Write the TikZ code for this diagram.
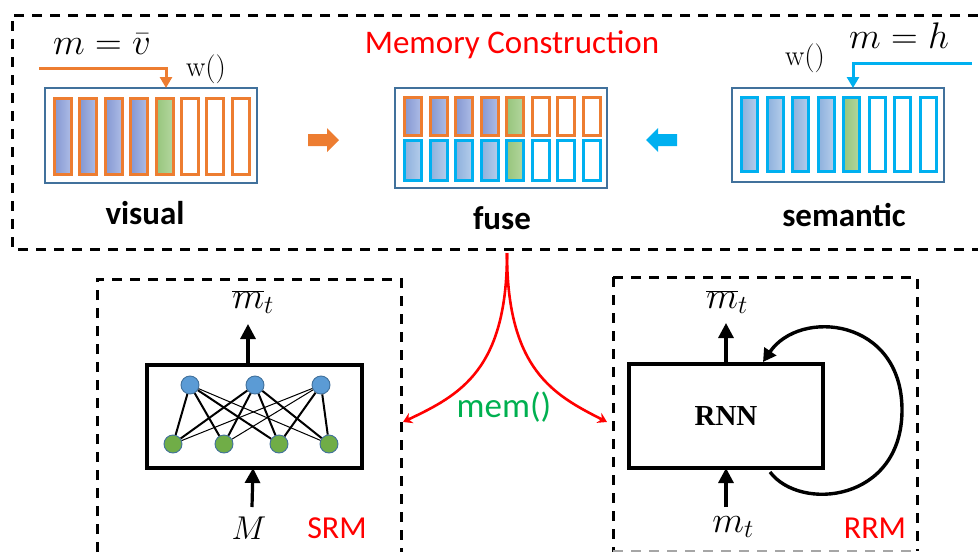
\documentclass[tikz,border=0pt]{standalone}
\usepackage{fix-cm}
\usepackage{fontspec}
\newfontfamily\calfont{Carlito}
\newfontfamily\timesfont{Liberation Serif}
\usetikzlibrary{arrows.meta}
\definecolor{orng}{HTML}{ED7D31}
\definecolor{skyb}{HTML}{00B0F0}
\definecolor{boxb}{HTML}{41719C}
\definecolor{vbl}{HTML}{8497D2}
\definecolor{vbr}{HTML}{AEBDE6}
\definecolor{sbl}{HTML}{8DB0DC}
\definecolor{sbr}{HTML}{B5CDEB}
\definecolor{gbl}{HTML}{97C57C}
\definecolor{gbr}{HTML}{B3D69E}
\definecolor{nblue}{HTML}{5B9BD5}
\definecolor{ngreen}{HTML}{70AD47}
\definecolor{memgreen}{HTML}{00B050}
\tikzset{
  dashbox/.style={line width=3pt, dash pattern=on 10pt off 8pt},
  membox/.style={draw=boxb, line width=1.6pt, inner sep=0pt},
  thickbox/.style={draw=black, line width=4pt, inner sep=0pt, fill=white},
  uparrow/.style={line width=3.2pt, -{Triangle[width=15pt,length=15pt]}},
  feedarrow/.style={line width=3.4pt, -{Triangle[width=14pt,length=13pt]}},
  redarr/.style={red, line width=2.6pt, -{Stealth[width=11pt,length=9pt]}},
  neuronb/.style={circle, draw=boxb, fill=nblue, line width=0.9pt, minimum size=18pt, inner sep=0pt},
  neurong/.style={circle, draw=boxb, fill=ngreen, line width=0.9pt, minimum size=18pt, inner sep=0pt},
  thickedge/.style={line width=2pt},
  thinedge/.style={line width=1pt},
  labelbold/.style={font=\calfont\bfseries\fontsize{33}{38}\selectfont},
  redlabel/.style={text=red, font=\calfont\fontsize{32}{38}\selectfont},
  mathlabel/.style={font=\fontsize{37}{42}\selectfont, inner sep=0pt},
  wlabel/.style={font=\fontsize{29}{33}\selectfont, inner sep=0pt},
}
\begin{document}
\begin{tikzpicture}[x=1pt,y=-1pt]
\useasboundingbox (0,0) rectangle (978,552);
% outer dashed frame
\draw[dashbox] (978,15) -- (12,15) -- (12,249) -- (978,249);
\node[text=red, font=\calfont\fontsize{33}{38}\selectfont] (title) at (512,45) {Memory Construction};

% memory boxes
\node[membox, minimum width=212pt, minimum height=95pt] (vis) at (151,135.5) {};
\node[membox, minimum width=212pt, minimum height=100pt] (fuse) at (501,138) {};
\node[membox, minimum width=212pt, minimum height=94pt] (sem) at (838,135) {};

% visual bars
\foreach \i in {0,...,7}{
  \pgfmathsetmacro\xa{54.5+25.4*\i}
  \pgfmathsetmacro\xb{71.5+25.4*\i}
  \ifnum\i<4
    \draw[orng, line width=3pt, left color=vbl, right color=vbr] (\xa,98.5) rectangle (\xb,174.5);
  \else\ifnum\i=4
    \draw[orng, line width=3pt, left color=gbl, right color=gbr] (\xa,98.5) rectangle (\xb,174.5);
  \else
    \draw[orng, line width=3pt, fill=white] (\xa,98.5) rectangle (\xb,174.5);
  \fi\fi
}
% semantic bars
\foreach \i in {0,...,7}{
  \pgfmathsetmacro\xa{741.5+25.5*\i}
  \pgfmathsetmacro\xb{757.5+25.5*\i}
  \ifnum\i<4
    \draw[skyb, line width=3pt, left color=sbl, right color=sbr] (\xa,97.5) rectangle (\xb,171.5);
  \else\ifnum\i=4
    \draw[skyb, line width=3pt, left color=gbl, right color=gbr] (\xa,97.5) rectangle (\xb,171.5);
  \else
    \draw[skyb, line width=3pt, fill=white] (\xa,97.5) rectangle (\xb,171.5);
  \fi\fi
}
% fused bars
\foreach \i in {0,...,7}{
  \pgfmathsetmacro\xa{404.5+25.5*\i}
  \pgfmathsetmacro\xb{421.5+25.5*\i}
  \ifnum\i<4
    \draw[orng, line width=3pt, left color=vbl, right color=vbr] (\xa,97.5) rectangle (\xb,135.5);
    \draw[skyb, line width=3pt, left color=sbl, right color=sbr] (\xa,140.5) rectangle (\xb,180.5);
  \else\ifnum\i=4
    \draw[orng, line width=3pt, left color=gbl, right color=gbr] (\xa,97.5) rectangle (\xb,135.5);
    \draw[skyb, line width=3pt, left color=gbl, right color=gbr] (\xa,140.5) rectangle (\xb,180.5);
  \else
    \draw[orng, line width=3pt, fill=white] (\xa,97.5) rectangle (\xb,135.5);
    \draw[skyb, line width=3pt, fill=white] (\xa,140.5) rectangle (\xb,180.5);
  \fi\fi
}

% labels
\node[labelbold] (vislab) at (145,213) {visual};
\node[labelbold] (fuselab) at (502,218) {fuse};
\node[labelbold] (semlab) at (844,215) {semantic};

% write arrows
\node[mathlabel] (mv) at (102,44) {$m=\bar{v}$};
\node[wlabel] (wv) at (206,69) {w()};
\coordinate (vin) at (39,68);
\coordinate (vtgt) at (166,88);
\draw[orng, line width=3pt, -{Triangle[width=12pt,length=11pt]}] (vin) -| (vtgt);

\node[mathlabel] (mh) at (899,36) {$m=h$};
\node[wlabel] (ws) at (805,58) {w()};
\coordinate (sin) at (972,63);
\coordinate (stgt) at (853,88);
\draw[skyb, line width=3pt, -{Triangle[width=12pt,length=11pt]}] (sin) -| (stgt);

% block arrows to fuse
\fill[orng] (308,134) -- (327,134) -- (327,128) -- (339,140) -- (327,152) -- (327,146) -- (308,146) -- cycle;
\fill[skyb] (677,134) -- (658,134) -- (658,128) -- (646,140) -- (658,152) -- (658,146) -- (677,146) -- cycle;

% SRM frame
\draw[dashbox] (97,552) -- (97,279) -- (401,279) -- (401,552);
\node[thickbox, minimum width=215pt, minimum height=103pt] (srmnet) at (254.5,416.5) {};
\node[neuronb] (b1) at (190,385) {};
\node[neuronb] (b2) at (255,385) {};
\node[neuronb] (b3) at (321,385) {};
\node[neurong] (g1) at (173,444) {};
\node[neurong] (g2) at (224,444) {};
\node[neurong] (g3) at (279,444) {};
\node[neurong] (g4) at (329,444) {};
\draw[thickedge] (b1) -- (g1);
\draw[thickedge] (b1) -- (g2);
\draw[thickedge] (b1) -- (g3);
\draw[thinedge] (b1) -- (g4);
\draw[thickedge] (b2) -- (g1);
\draw[thickedge] (b2) -- (g2);
\draw[thickedge] (b2) -- (g3);
\draw[thickedge] (b2) -- (g4);
\draw[thinedge] (b3) -- (g1);
\draw[thinedge] (b3) -- (g2);
\draw[thickedge] (b3) -- (g3);
\draw[thickedge] (b3) -- (g4);

\node[mathlabel] (srmout) at (253,302) {$\overline{m}_t$};
\coordinate (srmtop) at (248,365);
\coordinate (srmtip) at (248,324);
\draw[uparrow] (srmtop) -- (srmtip);
\node[font=\fontsize{33}{38}\selectfont, inner sep=0pt] (Min) at (249,528) {$M$};
\coordinate (srmfrom) at (252,507);
\coordinate (srmbot) at (253,468);
\draw[uparrow] (srmfrom) -- (srmbot);
\node[redlabel] (srmlab) at (337,528) {SRM};

% RRM frame
\draw[dashbox] (613,277) -- (917,277) -- (917,551);
\draw[dashbox] (613,277) -- (613,552);
\draw[dashbox, gray!70, line width=2pt] (613,551) -- (917,551);
\node[thickbox, minimum width=194pt, minimum height=104pt, font=\timesfont\bfseries\fontsize{29}{34}\selectfont] (rnn) at (726,416) {RNN};
\node[mathlabel] (rrmout) at (727,302) {$\overline{m}_t$};
\coordinate (rrmtop) at (726,364);
\coordinate (rrmtip) at (726,323);
\draw[uparrow] (rrmtop) -- (rrmtip);
\node[mathlabel] (mt) at (733,527) {$m_t$};
\coordinate (rrmfrom) at (726,507);
\coordinate (rrmbot) at (726,468);
\draw[uparrow] (rrmfrom) -- (rrmbot);
\node[redlabel] (rrmlab) at (875,528) {RRM};
\coordinate (loopa) at (770,472);
\coordinate (loopb) at (763,362);
\draw[feedarrow] (loopa) .. controls (800,512) and (902,502) .. (902,410) .. controls (902,318) and (800,308) .. (loopb);

% mem() arrows
\coordinate (memsrc) at (507,253);
\coordinate (srmin) at (403,422);
\coordinate (rrmin) at (607,422);
\draw[redarr] (memsrc) .. controls (507,370) and (460,395) .. (srmin);
\draw[redarr] (memsrc) .. controls (507,370) and (554,395) .. (rrmin);
\node[text=memgreen, font=\calfont\fontsize{35}{40}\selectfont] (memlab) at (504,407) {mem()};
\end{tikzpicture}
\end{document}
